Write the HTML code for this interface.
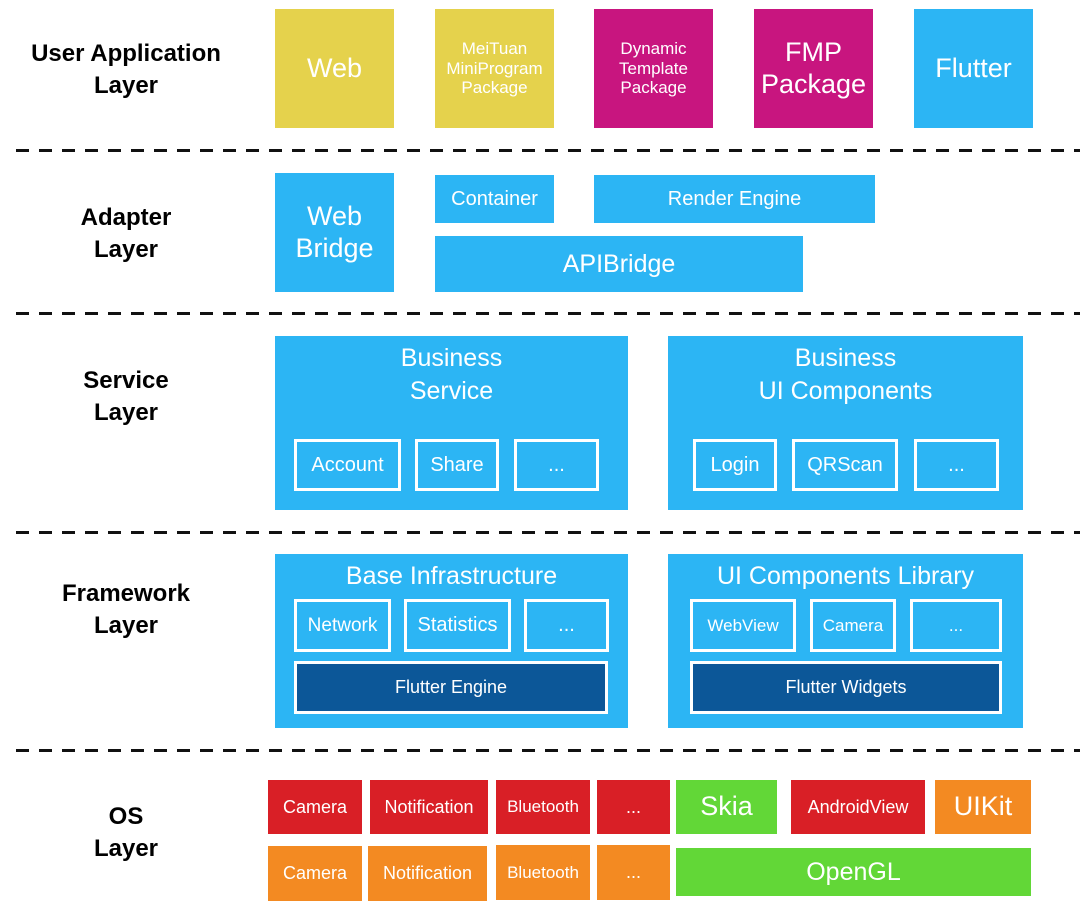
<!DOCTYPE html>
<html><head><meta charset="utf-8"><style>
body{margin:0;width:1080px;height:911px;background:#fff;position:relative;overflow:hidden;font-family:"Liberation Sans",Arial,sans-serif}
.b{position:absolute;display:flex;align-items:center;justify-content:center;text-align:center;color:#fff;line-height:1.15;box-sizing:border-box}
.y{background:#e5d24c}.m{background:#c8157f}.c{background:#2cb5f4}.r{background:#d91f26}.o{background:#f38a22}.g{background:#62d737}
.d{background:#0c5798;border:3px solid #fff}
.w{border:3px solid #fff}
.l{position:absolute;font-weight:bold;font-size:24px;text-align:center;color:#000;line-height:32px}
.dash{position:absolute;left:16px;width:1064px;height:3px;background:repeating-linear-gradient(90deg,#111 0 13px,transparent 13px 23px)}
.t{position:absolute;color:#fff;text-align:center;line-height:33px}
</style></head><body>
<div class="l" style="left:10px;top:38px;width:232px">User Application<br>Layer</div>
<div class="l" style="left:50px;top:202px;width:152px">Adapter<br>Layer</div>
<div class="l" style="left:50px;top:365px;width:152px">Service<br>Layer</div>
<div class="l" style="left:35px;top:578px;width:182px">Framework<br>Layer</div>
<div class="l" style="left:50px;top:801px;width:152px">OS<br>Layer</div>

<div class="dash" style="top:149px"></div>
<div class="dash" style="top:312px"></div>
<div class="dash" style="top:531px"></div>
<div class="dash" style="top:749px"></div>

<div class="b y" style="left:275px;top:9px;width:119px;height:119px;font-size:27px">Web</div>
<div class="b y" style="left:435px;top:9px;width:119px;height:119px;font-size:17px">MeiTuan<br>MiniProgram<br>Package</div>
<div class="b m" style="left:594px;top:9px;width:119px;height:119px;font-size:17px">Dynamic<br>Template<br>Package</div>
<div class="b m" style="left:754px;top:9px;width:119px;height:119px;font-size:27px">FMP<br>Package</div>
<div class="b c" style="left:914px;top:9px;width:119px;height:119px;font-size:27px">Flutter</div>

<div class="b c" style="left:275px;top:173px;width:119px;height:119px;font-size:27px">Web<br>Bridge</div>
<div class="b c" style="left:435px;top:175px;width:119px;height:48px;font-size:20px">Container</div>
<div class="b c" style="left:594px;top:175px;width:281px;height:48px;font-size:20px">Render Engine</div>
<div class="b c" style="left:435px;top:236px;width:368px;height:56px;font-size:25px">APIBridge</div>

<div class="b c" style="left:275px;top:336px;width:353px;height:174px"></div>
<div class="t" style="left:275px;top:342px;width:353px;font-size:25px">Business<br>Service</div>
<div class="b w" style="left:294px;top:439px;width:107px;height:52px;font-size:20px">Account</div>
<div class="b w" style="left:415px;top:439px;width:84px;height:52px;font-size:20px">Share</div>
<div class="b w" style="left:514px;top:439px;width:85px;height:52px;font-size:20px">...</div>

<div class="b c" style="left:668px;top:336px;width:355px;height:174px"></div>
<div class="t" style="left:668px;top:342px;width:355px;font-size:25px">Business<br>UI Components</div>
<div class="b w" style="left:693px;top:439px;width:84px;height:52px;font-size:20px">Login</div>
<div class="b w" style="left:792px;top:439px;width:106px;height:52px;font-size:20px">QRScan</div>
<div class="b w" style="left:914px;top:439px;width:85px;height:52px;font-size:20px">...</div>

<div class="b c" style="left:275px;top:554px;width:353px;height:174px"></div>
<div class="t" style="left:275px;top:560px;width:353px;font-size:25px">Base Infrastructure</div>
<div class="b w" style="left:294px;top:599px;width:97px;height:53px;font-size:19px">Network</div>
<div class="b w" style="left:404px;top:599px;width:107px;height:53px;font-size:20px">Statistics</div>
<div class="b w" style="left:524px;top:599px;width:85px;height:53px;font-size:20px">...</div>
<div class="b d" style="left:294px;top:661px;width:314px;height:53px;font-size:18px">Flutter Engine</div>

<div class="b c" style="left:668px;top:554px;width:355px;height:174px"></div>
<div class="t" style="left:668px;top:560px;width:355px;font-size:25px">UI Components Library</div>
<div class="b w" style="left:690px;top:599px;width:106px;height:53px;font-size:17px">WebView</div>
<div class="b w" style="left:810px;top:599px;width:86px;height:53px;font-size:17px">Camera</div>
<div class="b w" style="left:910px;top:599px;width:92px;height:53px;font-size:17px">...</div>
<div class="b d" style="left:690px;top:661px;width:312px;height:53px;font-size:18px">Flutter Widgets</div>

<div class="b r" style="left:268px;top:780px;width:94px;height:54px;font-size:18px">Camera</div>
<div class="b r" style="left:370px;top:780px;width:118px;height:54px;font-size:18px">Notification</div>
<div class="b r" style="left:496px;top:780px;width:94px;height:54px;font-size:17px">Bluetooth</div>
<div class="b r" style="left:597px;top:780px;width:73px;height:54px;font-size:18px">...</div>
<div class="b g" style="left:676px;top:780px;width:101px;height:54px;font-size:27px">Skia</div>
<div class="b r" style="left:791px;top:780px;width:134px;height:54px;font-size:18px">AndroidView</div>
<div class="b o" style="left:935px;top:780px;width:96px;height:54px;font-size:27px">UIKit</div>

<div class="b o" style="left:268px;top:846px;width:94px;height:55px;font-size:18px">Camera</div>
<div class="b o" style="left:368px;top:846px;width:119px;height:55px;font-size:18px">Notification</div>
<div class="b o" style="left:496px;top:845px;width:94px;height:55px;font-size:17px">Bluetooth</div>
<div class="b o" style="left:597px;top:845px;width:73px;height:55px;font-size:18px">...</div>
<div class="b g" style="left:676px;top:848px;width:355px;height:48px;font-size:25px">OpenGL</div>
</body></html>
